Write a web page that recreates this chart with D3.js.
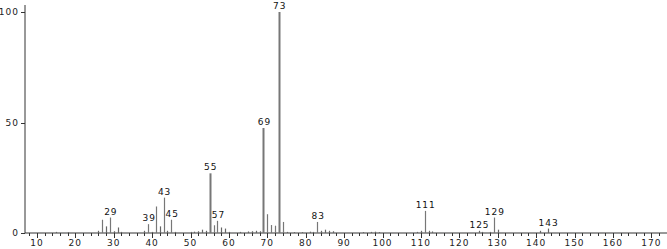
<!DOCTYPE html>
<html>
<head>
<meta charset="utf-8">
<script src="https://cdn.jsdelivr.net/npm/d3@7"></script>
<style>
  body { margin: 0; background: #fff; }
  text { font-family: "DejaVu Sans", sans-serif; }
</style>
</head>
<body>
<div id="chart"></div>
<script>
// mass spectrum, m/z vs relative intensity
var mz = [15, 18, 26, 27, 28, 29, 30, 31, 32, 38, 39, 40, 41, 42, 43, 44, 45, 46,
  50, 51, 52, 53, 54, 55, 56, 57, 58, 59, 60, 63, 65, 66, 67, 68, 69, 70, 71, 72, 73, 74,
  75, 77, 79, 81, 82, 83, 84, 85, 86, 87, 95, 97, 98, 99, 109, 110, 111, 112, 113,
  125, 126, 128, 129, 130, 141, 143];
var intensity = [0.5, 0.4, 1, 6, 3, 7, 0.8, 2.5, 0.5, 1, 4, 0.5, 12, 3, 16, 1, 6, 0.5,
  0.5, 0.6, 0.8, 1.5, 1, 27, 3.5, 5.5, 2.5, 2, 0.5, 0.5, 0.7, 0.8, 1, 0.8, 47.5, 8.5, 3.6, 3.3, 100, 5,
  0.5, 0.4, 0.4, 0.6, 0.5, 5, 1, 1.5, 1, 0.8, 0.4, 0.5, 0.6, 0.4, 0.5, 1, 10, 1, 0.7,
  1, 0.5, 0.5, 7, 1.5, 1, 2];
var labelled = [29, 39, 43, 45, 55, 57, 69, 73, 83, 111, 125, 129, 143];
var xTickLabels = [10, 20, 30, 40, 50, 60, 70, 80, 90, 100, 110, 120, 130, 140, 150, 160, 170];
var yTickLabels = [0, 50, 100];

var svgWidth = 667;
var svgHeight = 249;

var margin = { top: 12, right: 0, bottom: 16, left: 25 };
var width = svgWidth - margin.left - margin.right;
var height = svgHeight - margin.top - margin.bottom;

var svg = d3.select("#chart")
  .append("svg")
  .attr("width", svgWidth)
  .attr("height", svgHeight);

var chartGroup = svg.append("g")
  .attr("transform", `translate(${margin.left}, ${margin.top})`);

var x = d3.scaleLinear()
  .domain([6.9, 6.9 + width / 3.84])
  .range([0, width]);

var y = d3.scaleLinear()
  .domain([0, 100])
  .range([height, 0]);

var axisColor = "#333";

// x axis: minor ticks every 2, major every 10
var xAxis = chartGroup.append("g")
  .attr("transform", `translate(0, ${height})`);
xAxis.append("line")
  .attr("x1", 0).attr("x2", width)
  .attr("stroke", axisColor);
xAxis.selectAll(".minor")
  .data(d3.range(8, 175, 2))
  .enter()
  .append("line")
  .attr("x1", d => Math.round(x(d)) + 0.5)
  .attr("x2", d => Math.round(x(d)) + 0.5)
  .attr("y1", 0)
  .attr("y2", d => d % 10 === 0 ? 5 : 3)
  .attr("stroke", axisColor);
xAxis.selectAll(".lbl")
  .data(xTickLabels)
  .enter()
  .append("text")
  .attr("x", d => x(d))
  .attr("y", 13)
  .attr("text-anchor", "middle")
  .attr("font-size", "9px")
  .attr("letter-spacing", "1px")
  .attr("fill", "#222")
  .text(d => d);

// y axis
var yAxis = chartGroup.append("g");
yAxis.append("line")
  .attr("y1", -7).attr("y2", height)
  .attr("stroke", axisColor);
yAxis.selectAll(".tick")
  .data(yTickLabels)
  .enter()
  .append("line")
  .attr("x1", -4).attr("x2", 0)
  .attr("y1", d => Math.round(y(d)) + 0.5)
  .attr("y2", d => Math.round(y(d)) + 0.5)
  .attr("stroke", axisColor);
yAxis.selectAll(".lbl")
  .data(yTickLabels)
  .enter()
  .append("text")
  .attr("x", -6)
  .attr("y", d => y(d) + 3)
  .attr("text-anchor", "end")
  .attr("font-size", "9px")
  .attr("letter-spacing", "1px")
  .attr("fill", "#222")
  .text(d => d);

// peaks
var peaks = mz.map((m, i) => ({ mz: m, v: intensity[i] }));
chartGroup.selectAll(".peak")
  .data(peaks)
  .enter()
  .append("line")
  .attr("x1", d => Math.round(x(d.mz)) + 0.5)
  .attr("x2", d => Math.round(x(d.mz)) + 0.5)
  .attr("y1", height)
  .attr("y2", d => y(d.v))
  .attr("stroke", d => d.v > 3 ? "#777" : "#666")
  .attr("stroke-width", d => d.v > 20 ? 2 : 1.2);

chartGroup.selectAll(".plabel")
  .data(peaks.filter(d => labelled.includes(d.mz)))
  .enter()
  .append("text")
  .attr("x", d => x(d.mz) + 1)
  .attr("y", d => y(d.v) - 3)
  .attr("text-anchor", "middle")
  .attr("font-size", "9px")
  .attr("letter-spacing", "1px")
  .attr("fill", "#111")
  .text(d => d.mz);
</script>
</body>
</html>
